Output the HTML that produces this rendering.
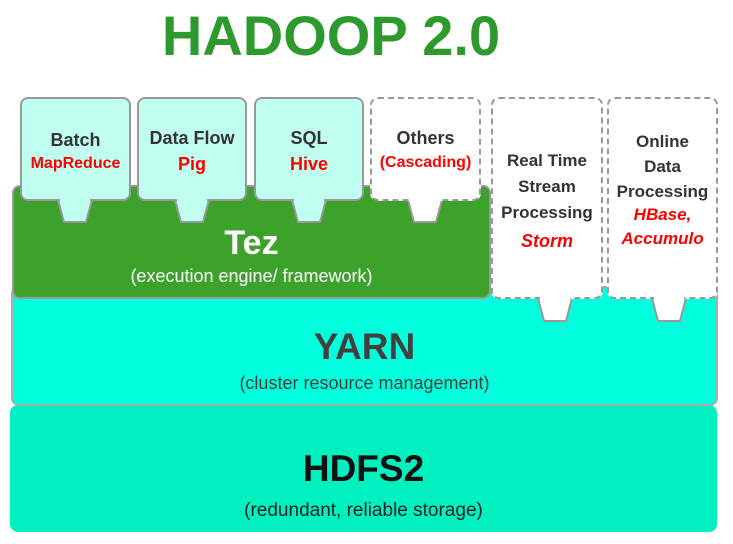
<!DOCTYPE html>
<html><head><meta charset="utf-8"><style>
body{margin:0;width:733px;height:544px;background:#fff;position:relative;overflow:hidden;font-family:"Liberation Sans",sans-serif}
.a{position:absolute;box-sizing:border-box}
.t{position:absolute;left:0;width:100%;text-align:center;white-space:nowrap}
.box{border-radius:8px}
.blk{color:#333;font-weight:bold}
.red{color:#f00;font-weight:bold}
</style></head><body>
<div class="t" style="top:3px;left:0;width:662px;font-size:56px;font-weight:bold;color:#2e9a2e">HADOOP 2.0</div>

<div class="a box" style="left:10px;top:405px;width:707px;height:127px;background:#00f0c0"></div>
<div class="t" style="top:448px;left:10px;width:707px;font-size:37px;font-weight:bold;color:#111">HDFS2</div>
<div class="t" style="top:500px;left:10px;width:707px;font-size:19px;color:#222">(redundant, reliable storage)</div>

<div class="a box" style="left:11px;top:286px;width:707px;height:120px;background:#00ffdc;border:2px solid #aaa"></div>
<div class="t" style="top:326px;left:11px;width:707px;font-size:37px;font-weight:bold;color:#404040">YARN</div>
<div class="t" style="top:373px;left:11px;width:707px;font-size:18px;color:#404040">(cluster resource management)</div>

<div class="a box" style="left:12px;top:185px;width:479px;height:114px;background:#3ca22c;border:2px solid #999"></div>
<div class="t" style="top:224px;left:12px;width:479px;font-size:34px;font-weight:bold;color:#fff">Tez</div>
<div class="t" style="top:266px;left:12px;width:479px;font-size:18px;color:#fff">(execution engine/ framework)</div>

<svg class="a" style="left:0;top:0" width="733" height="544">
<g stroke="#999" stroke-width="2">
<path d="M58 200 L64 222 L86 222 L92 200" fill="#c0fff0"/>
<path d="M175 200 L181 222 L203 222 L209 200" fill="#c0fff0"/>
<path d="M292 200 L298 222 L320 222 L326 200" fill="#c0fff0"/>
<path d="M408 200 L414 222 L436 222 L442 200" fill="#fff"/>
<path d="M538 298 L544 321 L566 321 L572 298" fill="#fff"/>
<path d="M652 298 L658 321 L680 321 L686 298" fill="#fff"/>
</g>
</svg>

<div class="a box" style="left:20px;top:97px;width:111px;height:104px;background:#c0fff0;border:2px solid #999"></div>
<div class="a box" style="left:137px;top:97px;width:110px;height:104px;background:#c0fff0;border:2px solid #999"></div>
<div class="a box" style="left:254px;top:97px;width:110px;height:104px;background:#c0fff0;border:2px solid #999"></div>
<div class="a box" style="left:370px;top:97px;width:111px;height:104px;background:#fff;border:2px dashed #999"></div>
<div class="a box" style="left:491px;top:97px;width:112px;height:202px;background:#fff;border:2px dashed #999"></div>
<div class="a box" style="left:607px;top:97px;width:111px;height:202px;background:#fff;border:2px dashed #999"></div>
<svg class="a" style="left:0;top:0" width="733" height="544">
<g fill="#c0fff0"><rect x="60" y="196" width="30" height="8"/><rect x="177" y="196" width="30" height="8"/><rect x="294" y="196" width="30" height="8"/></g>
<g fill="#fff"><rect x="410" y="196" width="30" height="8"/><rect x="540" y="294" width="30" height="8"/><rect x="654" y="294" width="30" height="8"/></g>
</svg>

<div class="t blk" style="left:20px;width:111px;top:130px;font-size:18px">Batch</div>
<div class="t red" style="left:20px;width:111px;top:155px;font-size:16px">MapReduce</div>
<div class="t blk" style="left:137px;width:110px;top:128px;font-size:18px">Data Flow</div>
<div class="t red" style="left:137px;width:110px;top:154px;font-size:18px">Pig</div>
<div class="t blk" style="left:254px;width:110px;top:128px;font-size:18px">SQL</div>
<div class="t red" style="left:254px;width:110px;top:154px;font-size:18px">Hive</div>
<div class="t blk" style="left:370px;width:111px;top:128px;font-size:18px">Others</div>
<div class="t red" style="left:370px;width:111px;top:154px;font-size:16px">(Cascading)</div>

<div class="t blk" style="left:491px;width:112px;top:148px;font-size:17px;line-height:26px">Real Time<br>Stream<br>Processing</div>
<div class="t red" style="left:491px;width:112px;top:231px;font-size:18px;font-style:italic">Storm</div>
<div class="t blk" style="left:607px;width:111px;top:129px;font-size:17px;line-height:25px">Online<br>Data<br>Processing</div>
<div class="t red" style="left:607px;width:111px;top:203px;font-size:17px;font-style:italic;line-height:24px">HBase,<br>Accumulo</div>
</body></html>
